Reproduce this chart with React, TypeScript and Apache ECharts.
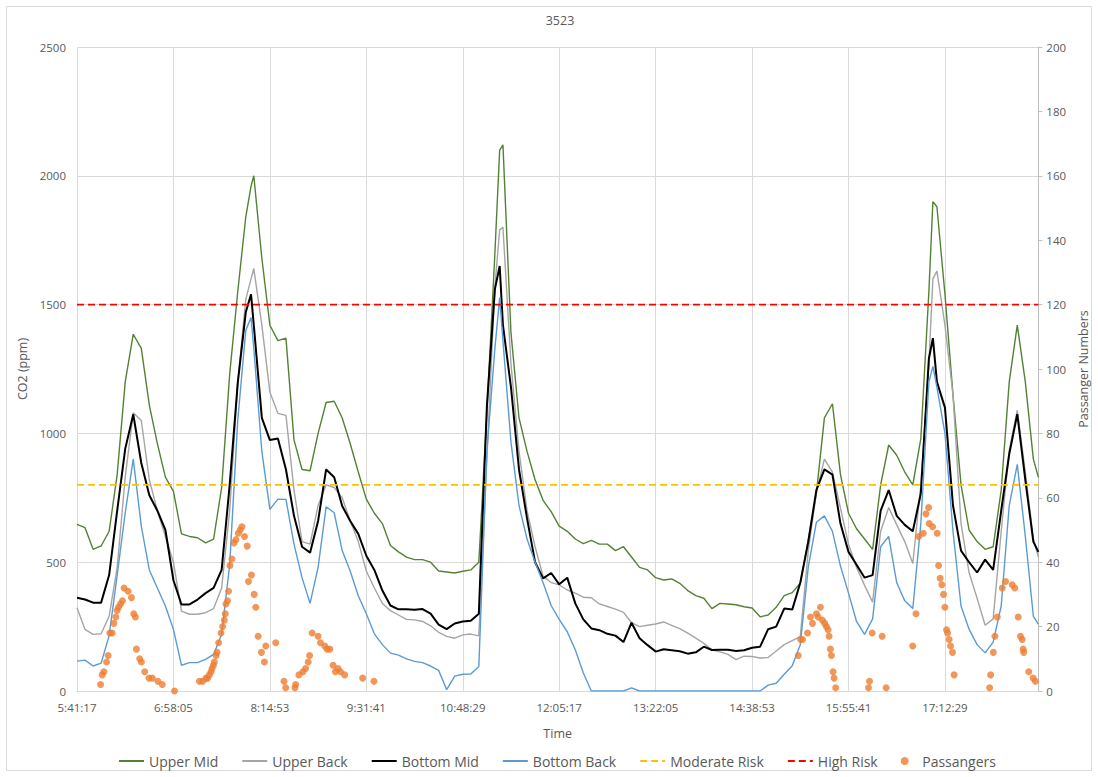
import React, { useEffect, useRef } from "react";
import * as echarts from "echarts";

// ---- data ----
const timeLabels = [
  "5:41:17", "5:47:41", "5:54:05", "6:00:29", "6:06:53", "6:13:17", "6:19:41", "6:26:05", "6:32:29", "6:38:53",
  "6:45:17", "6:51:41", "6:58:05", "7:04:29", "7:10:53", "7:17:17", "7:23:41", "7:30:05", "7:36:29", "7:42:53",
  "7:49:17", "7:55:41", "7:59:53", "8:02:05", "8:08:29", "8:14:53", "8:21:17", "8:27:41", "8:34:05", "8:40:29",
  "8:46:53", "8:53:17", "8:59:41", "9:06:05", "9:12:29", "9:18:53", "9:25:17", "9:31:41", "9:38:05", "9:44:29",
  "9:50:53", "9:57:17", "10:03:41", "10:10:05", "10:16:29", "10:22:53", "10:29:17", "10:35:41", "10:42:05", "10:48:29",
  "10:54:53", "11:01:17", "11:07:41", "11:14:05", "11:17:53", "11:20:29", "11:26:53", "11:33:17", "11:39:41", "11:46:05",
  "11:52:29", "11:58:53", "12:05:17", "12:11:41", "12:18:05", "12:24:29", "12:30:53", "12:37:17", "12:43:41", "12:50:05",
  "12:56:29", "13:02:53", "13:09:17", "13:15:41", "13:22:05", "13:28:29", "13:34:53", "13:41:17", "13:47:41", "13:54:05",
  "14:00:29", "14:06:53", "14:13:17", "14:19:41", "14:26:05", "14:32:29", "14:38:53", "14:45:17", "14:51:41", "14:58:05",
  "15:04:29", "15:10:53", "15:17:17", "15:23:41", "15:30:05", "15:36:29", "15:42:53", "15:49:17", "15:55:41", "16:02:05",
  "16:08:29", "16:14:53", "16:21:17", "16:27:41", "16:34:05", "16:40:29", "16:46:53", "16:53:17", "16:59:41", "17:02:53",
  "17:06:05", "17:12:29", "17:18:53", "17:25:17", "17:31:41", "17:38:05", "17:44:29", "17:50:53", "17:57:17", "18:03:41",
  "18:10:05", "18:16:29", "18:22:53", "18:26:53",
];

const upperMid = [
  647, 634, 550, 563, 620, 840, 1200, 1385, 1330, 1110,
  960, 830, 775, 610, 600, 595, 575, 590, 790, 1230,
  1550, 1840, 1960, 2000, 1680, 1420, 1360, 1370, 975, 860,
  855, 1000, 1120, 1125, 1060, 960, 850, 745, 690, 650,
  565, 540, 520, 510, 510, 500, 466, 462, 458, 465,
  470, 500, 1080, 1700, 2100, 2120, 1390, 1060, 930, 820,
  740, 696, 640, 620, 590, 572, 585, 570, 570, 545,
  560, 520, 480, 470, 440, 431, 435, 418, 390, 370,
  360, 320, 340, 338, 335, 327, 322, 288, 295, 325,
  370, 382, 418, 590, 767, 1060, 1115, 840, 690, 630,
  590, 550, 800, 955, 915, 850, 800, 980, 1550, 1900,
  1880, 1540, 1150, 800, 625, 580, 550, 560, 780, 1200,
  1420, 1200, 900, 830,
];

const upperBack = [
  323, 239, 220, 222, 290, 480, 830, 1080, 1050, 820,
  700, 600, 500, 310, 298, 298, 304, 320, 400, 700,
  1195, 1520, 1600, 1640, 1420, 1160, 1078, 1070, 780, 580,
  570, 720, 800, 790, 750, 660, 580, 466, 400, 340,
  312, 295, 278, 276, 270, 253, 228, 212, 205, 218,
  221, 214, 900, 1570, 1790, 1800, 1270, 930, 700, 560,
  445, 421, 412, 392, 380, 364, 362, 338, 328, 318,
  305, 265, 250, 255, 260, 268, 255, 242, 225, 205,
  185, 160, 152, 142, 122, 135, 134, 128, 130, 155,
  180, 196, 211, 547, 770, 900, 850, 710, 570, 480,
  410, 345, 620, 712, 645, 580, 495, 800, 1270, 1600,
  1630, 1420, 1150, 650, 460, 360, 255, 280, 620, 935,
  1090, 850, 590, 520,
];

const bottomMid = [
  362, 355, 343, 343, 450, 700, 940, 1074, 885, 760,
  700, 625, 430, 336, 336, 355, 380, 400, 470, 800,
  1195, 1470, 1540, 1420, 1060, 974, 980, 860, 680, 560,
  537, 660, 860, 830, 718, 660, 610, 525, 470, 390,
  332, 317, 317, 315, 318, 300, 258, 240, 262, 270,
  273, 300, 1104, 1560, 1650, 1420, 1180, 860, 670, 500,
  437, 458, 414, 440, 340, 278, 243, 236, 222, 215,
  190, 265, 205, 178, 153, 162, 158, 154, 145, 150,
  172, 159, 160, 160, 155, 158, 168, 172, 240, 250,
  320, 316, 420, 580, 780, 860, 840, 650, 540, 490,
  440, 450, 700, 780, 680, 645, 620, 767, 1290, 1370,
  1200, 1100, 720, 545, 500, 460, 510, 470, 700, 920,
  1075, 820, 580, 540,
];

const bottomBack = [
  116, 120, 97, 108, 215, 450, 692, 900, 640, 470,
  400, 330, 239, 100, 110, 110, 123, 142, 220, 490,
  1050, 1400, 1450, 1330, 930, 705, 745, 744, 570, 440,
  340, 480, 715, 692, 545, 465, 370, 300, 222, 180,
  147, 139, 125, 115, 110, 97, 80, 5, 58, 65,
  66, 95, 930, 1330, 1527, 1360, 965, 720, 590, 500,
  420, 332, 278, 230, 160, 70, 0, 0, 0, 0,
  0, 12, 0, 0, 0, 0, 0, 0, 0, 0,
  0, 0, 0, 0, 0, 0, 0, 0, 23, 30,
  65, 98, 180, 483, 655, 680, 620, 485, 380, 270,
  220, 280, 560, 600, 420, 350, 320, 650, 1200, 1260,
  1180, 1000, 620, 330, 240, 180, 148, 190, 330, 720,
  880, 600, 290, 260,
];

const passengerTimes = [
  "6:00:04", "6:01:20", "6:02:41", "6:04:49", "6:06:05", "6:07:26", "6:09:16", "6:10:36", "6:12:12", "6:13:13",
  "6:14:20", "6:15:55", "6:17:30", "6:18:46", "6:21:57", "6:24:38", "6:26:28", "6:27:48", "6:28:36", "6:31:13",
  "6:32:34", "6:35:11", "6:38:35", "6:41:17", "6:45:43", "6:49:12", "6:58:57",
  "7:18:46", "7:21:23", "7:24:05", "7:25:21", "7:26:42", "7:28:03", "7:28:50", "7:29:52", "7:30:39", "7:32:00",
  "7:32:48", "7:34:04", "7:35:58", "7:37:14", "7:38:35", "7:39:23", "7:39:56", "7:41:12", "7:41:59", "7:43:06",
  "7:44:41", "7:46:16", "7:47:51", "7:49:41", "7:51:16", "7:52:37", "7:54:40", "7:56:49", "7:57:50", "8:00:13",
  "8:02:22", "8:03:42", "8:05:32", "8:08:09", "8:10:31", "8:11:38", "8:19:34", "8:26:08", "8:27:29", "8:34:51",
  "8:35:25", "8:38:02", "8:41:12", "8:43:20", "8:45:24", "8:46:30", "8:48:34", "8:53:19", "8:55:13", "8:58:38",
  "9:00:27", "9:02:36", "9:05:13", "9:07:07", "9:09:10", "9:11:05", "9:14:29", "9:28:45", "9:37:47",
  "15:15:40", "15:17:29", "15:19:04", "15:23:02", "15:25:24", "15:26:59", "15:30:10", "15:31:31", "15:33:20", "15:34:55",
  "15:36:44", "15:38:05", "15:39:26", "15:40:14", "15:41:15", "15:42:03", "15:43:24", "15:44:11", "15:45:27",
  "16:11:37", "16:12:24", "16:14:33", "16:22:28", "16:25:38",
  "16:46:48", "16:49:25", "16:51:33", "16:55:12", "16:57:21", "16:59:29", "16:59:57", "17:02:39", "17:06:18", "17:07:24",
  "17:08:41", "17:10:01", "17:11:22", "17:12:24", "17:13:45", "17:14:33", "17:15:49", "17:16:55", "17:18:30", "17:19:47",
  "17:48:04", "17:48:52", "17:51:00", "17:52:16", "17:54:10", "17:58:08", "18:00:45", "18:06:03", "18:08:07", "18:10:49",
  "18:12:38", "18:13:59", "18:14:47", "18:15:15", "18:19:13", "18:22:42", "18:24:32",
];

const passengerCounts = [
  2, 5, 6, 9, 11, 18, 18, 21, 23, 25,
  26, 27, 28, 32, 31, 29, 24, 23, 13, 10,
  9, 6, 4, 4, 3, 2, 0,
  3, 3, 4, 4, 5, 6, 7, 8, 9, 11,
  12, 15, 18, 20, 22, 24, 27, 28, 31, 39,
  41, 46, 47, 49, 50, 51, 48, 45, 34, 36,
  30, 26, 17, 12, 9, 14, 15, 3, 1, 1,
  2, 5, 6, 7, 9, 11, 18, 17, 15, 14,
  13, 13, 8, 6, 7, 6, 5, 4, 3,
  11, 16, 16, 18, 23, 21, 24, 23, 26, 22,
  21, 20, 19, 17, 13, 11, 6, 4, 1,
  1, 3, 18, 17, 1,
  14, 24, 48, 49, 55, 57, 52, 51, 49, 39,
  35, 33, 30, 26, 19, 18, 16, 14, 12, 5,
  1, 5, 12, 17, 23, 32, 34, 33, 32, 23,
  17, 16, 13, 12, 6, 4, 3,
];

const moderateRisk = 800;
const highRisk = 1500;

const axisStart = "5:41:17";
const axisEnd = "18:26:53";
const tickStep = 4608; // 1:16:48 between time labels

const co2Ticks = { min: 0, max: 2500, interval: 500 };
const paxTicks = { min: 0, max: 200, interval: 20 };

// ---- helpers ----
function toSec(t: string): number {
  const [h, m, s] = t.split(":").map(Number);
  return h * 3600 + m * 60 + s;
}
const START = toSec(axisStart);
function clock(sec: number): string {
  const total = Math.round(sec);
  const h = Math.floor(total / 3600);
  const m = Math.floor((total % 3600) / 60);
  const s = total % 60;
  return `${h}:${String(m).padStart(2, "0")}:${String(s).padStart(2, "0")}`;
}

const FONT = "Open Sans";
const TXT = "#595959";
const GRID = "#d9d9d9";

export default function App() {
  const ref = useRef<HTMLDivElement>(null);

  useEffect(() => {
    if (!ref.current) return;
    const chart = echarts.init(ref.current, undefined, { renderer: "svg" });
    const xs = timeLabels.map((t) => toSec(t) - START);
    const xMax = toSec(axisEnd) - START;
    const pair = (vals: number[]) => xs.map((x, i) => [x, vals[i]]);

    const lineSeries = (name: string, vals: number[], color: string, width: number) => ({
      name,
      type: "line",
      data: pair(vals),
      showSymbol: false,
      symbol: "none",
      yAxisIndex: 0,
      lineStyle: { color, width },
      itemStyle: { color },
      emphasis: { disabled: true },
    });

    const lineLegend = (name: string) => ({ name, itemStyle: { opacity: 0 } });

    chart.setOption({
      animation: false,
      backgroundColor: "#ffffff",
      textStyle: { fontFamily: FONT },
      graphic: [
        {
          type: "rect",
          shape: { x: 6.5, y: 6.5, width: 1085, height: 764 },
          style: { fill: "none", stroke: GRID, lineWidth: 1 },
          silent: true,
          z: -10,
        },
        {
          type: "text",
          x: 560,
          y: 20,
          style: {
            text: "3523",
            fill: TXT,
            font: `12.5px "${FONT}"`,
            textAlign: "center",
            textVerticalAlign: "middle",
          },
        },
      ],
      grid: { left: 77, right: 55, top: 47, bottom: 86, containLabel: false },
      legend: {
        left: 113,
        top: 749,
        itemWidth: 25,
        itemHeight: 8,
        itemGap: 23,
        textStyle: { fontFamily: FONT, fontSize: 14, color: TXT },
        data: [
          lineLegend("Upper Mid"),
          lineLegend("Upper Back"),
          lineLegend("Bottom Mid"),
          lineLegend("Bottom Back"),
          lineLegend("Moderate Risk"),
          lineLegend("High Risk"),
          { name: "Passangers", icon: "circle" },
        ],
      },
      xAxis: {
        type: "value",
        min: 0,
        max: xMax,
        interval: tickStep,
        name: "Time",
        nameLocation: "middle",
        nameGap: 36,
        nameTextStyle: { fontFamily: FONT, fontSize: 12.5, color: TXT },
        axisLine: { show: true, lineStyle: { color: GRID } },
        axisTick: { show: false },
        axisLabel: {
          color: TXT,
          fontFamily: FONT,
          fontSize: 11.5,
          margin: 10,
          showMaxLabel: false,
          formatter: (v: number) => clock(START + v),
        },
        splitLine: { show: true, lineStyle: { color: GRID, width: 1 } },
      },
      yAxis: [
        {
          type: "value",
          ...co2Ticks,
          name: "CO2 (ppm)",
          nameLocation: "middle",
          nameGap: 43,
          nameRotate: 90,
          nameTextStyle: { fontFamily: FONT, fontSize: 12.5, color: TXT },
          axisLine: { show: false },
          axisTick: { show: false },
          axisLabel: {
            color: TXT,
            fontFamily: FONT,
            fontSize: 11.5,
            margin: 11,
            formatter: (v: number) => String(v),
          },
          splitLine: { show: true, lineStyle: { color: GRID, width: 1 } },
        },
        {
          type: "value",
          ...paxTicks,
          position: "right",
          name: "Passanger Numbers",
          nameLocation: "middle",
          nameGap: 38,
          nameRotate: 90,
          nameTextStyle: { fontFamily: FONT, fontSize: 12.5, color: TXT },
          axisLine: { show: true, lineStyle: { color: "#bfbfbf" } },
          axisTick: { show: true, length: 4, lineStyle: { color: "#bfbfbf" } },
          axisLabel: {
            color: TXT,
            fontFamily: FONT,
            fontSize: 11.5,
            margin: 8,
            formatter: (v: number) => String(v),
          },
          splitLine: { show: false },
        },
      ],
      series: [
        lineSeries("Upper Mid", upperMid, "#548235", 1.4),
        lineSeries("Upper Back", upperBack, "#A5A5A5", 1.4),
        lineSeries("Bottom Mid", bottomMid, "#000000", 2),
        lineSeries("Bottom Back", bottomBack, "#5B9BD5", 1.4),
        {
          name: "Moderate Risk",
          type: "line",
          data: [
            [0, moderateRisk],
            [xMax, moderateRisk],
          ],
          showSymbol: false,
          symbol: "none",
          lineStyle: { color: "#FFC000", width: 1.6, type: [7, 4] },
          itemStyle: { color: "#FFC000" },
          emphasis: { disabled: true },
        },
        {
          name: "High Risk",
          type: "line",
          data: [
            [0, highRisk],
            [xMax, highRisk],
          ],
          showSymbol: false,
          symbol: "none",
          lineStyle: { color: "#FF0000", width: 1.8, type: [7, 4] },
          itemStyle: { color: "#FF0000" },
          emphasis: { disabled: true },
        },
        {
          name: "Passangers",
          type: "scatter",
          yAxisIndex: 1,
          symbol: "circle",
          symbolSize: 7,
          itemStyle: { color: "#ED7D31" },
          data: passengerTimes.map((t, i) => [toSec(t) - START, passengerCounts[i]]),
          emphasis: { disabled: true },
          z: 5,
        },
      ],
    });

    return () => chart.dispose();
  }, []);

  return (
    <div
      ref={ref}
      style={{ position: "fixed", left: 0, top: 0, width: 1098, height: 777, background: "#fff" }}
    />
  );
}
